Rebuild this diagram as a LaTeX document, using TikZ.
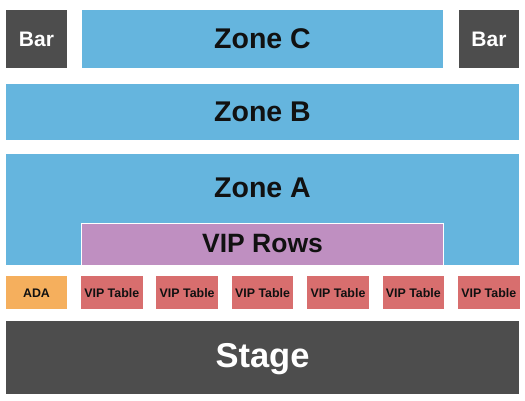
\documentclass[tikz,border=0pt]{standalone}
\usepackage{fontspec}
\setmainfont{Liberation Sans}
\definecolor{zoneblue}{HTML}{65B5DE}
\definecolor{darkgray}{HTML}{4D4D4D}
\definecolor{vippurple}{HTML}{BF8FC1}
\definecolor{tablered}{HTML}{D86E6E}
\definecolor{adaorange}{HTML}{F5AF5D}
\definecolor{labelblack}{HTML}{111111}
\begin{document}
\begin{tikzpicture}[x=1pt,y=-1pt,
  area/.style={inner sep=0pt, outer sep=0pt, anchor=base},
  zone/.style={area, text=labelblack, font=\fontsize{28.5}{32}\selectfont\bfseries},
  bar/.style={area, text=white, font=\fontsize{21}{24}\selectfont\bfseries},
  vtable/.style={area, text=labelblack, font=\fontsize{12.4}{14}\selectfont\bfseries},
]
\useasboundingbox (0,0) rectangle (525,400);
\fill[white] (0,0) rectangle (525,400);
% Bars and Zone C
\fill[darkgray] (6,10) rectangle (67,68);
\node[bar] (barl) at (36.5,46.5) {Bar};
\fill[darkgray] (459,10) rectangle (519,68);
\node[bar] (barr) at (489,46.5) {Bar};
\fill[zoneblue] (82,10) rectangle (443,68);
\node[zone] (zc) at (262.5,48.5) {Zone C};
% Zone B
\fill[zoneblue] (6,84) rectangle (519,140);
\node[zone] (zb) at (262.5,121.5) {Zone B};
% Zone A
\fill[zoneblue] (6,154) rectangle (519,265);
\node[zone] (za) at (262.5,197) {Zone A};
% VIP Rows
\fill[white] (81,223) rectangle (444,265);
\fill[vippurple] (82,224) rectangle (443,265);
\node[area, text=labelblack, font=\fontsize{26.5}{30}\selectfont\bfseries] (vr) at (262.5,252.5) {VIP Rows};
% ADA and tables
\fill[adaorange] (6,276) rectangle (67,309);
\node[vtable] (ada) at (36.5,297.5) {ADA};
\foreach \i in {0,...,5}{
  \pgfmathsetmacro{\xl}{81+75.4*\i}
  \fill[tablered] (\xl,276) rectangle ({\xl+61.5},309);
  \node[vtable] (t\i) at ({\xl+30.75},297.5) {VIP Table};
}
% Stage
\fill[darkgray] (6,321) rectangle (519,394);
\node[area, text=white, font=\fontsize{34.5}{38}\selectfont\bfseries] (stage) at (262.5,367) {Stage};
\end{tikzpicture}
\end{document}
